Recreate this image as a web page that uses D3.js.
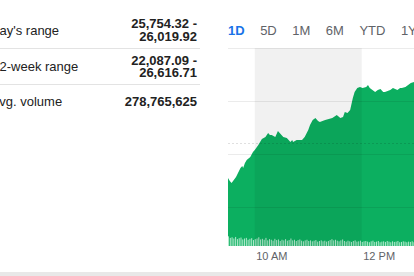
<!DOCTYPE html>
<html>
<head>
<meta charset="utf-8">
<script src="https://cdn.jsdelivr.net/npm/d3@7"></script>
<style>
  html, body { margin: 0; padding: 0; background: #fff; overflow: hidden; }
  svg { display: block; font-family: "Liberation Sans", Arial, sans-serif; }
</style>
</head>
<body>
<div class="container"></div>
<script>
// stats table on the left
const statLabels = ["Day's range", "52-week range", "Avg. volume"];
const statValues = [["25,754.32 -", "26,019.92"], ["22,087.09 -", "26,616.71"], ["278,765,625"]];

// range tabs
const tabs = ["1D", "5D", "1M", "6M", "YTD", "1Y"];

// intraday price (time, index level)
const priceTimes = ["09:30","09:32","09:34","09:39","09:44","09:46","09:47","09:49","09:51","09:55",
  "09:58","10:00","10:04","10:08","10:12","10:15","10:17","10:19","10:23","10:26",
  "10:28","10:32","10:36","10:40","10:42","10:43","10:47","10:53","10:56","11:00",
  "11:02","11:05","11:08","11:11","11:13","11:19","11:23","11:27","11:32","11:36",
  "11:39","11:41","11:44","11:47","11:50","11:52","11:55","11:58","12:01","12:05",
  "12:07","12:09","12:12","12:15","12:18","12:21","12:24","12:26","12:29","12:32",
  "12:35","12:40","12:43","12:45","12:49","12:52","12:55","12:59","13:05"];
const priceValues = [25754.7,25749.1,25745.3,25756.6,25773.6,25777.4,25773.6,25783.0,25788.7,25794.3,
  25803.8,25807.5,25817.0,25828.3,25832.1,25839.6,25835.8,25835.8,25832.1,25843.4,
  25839.6,25832.1,25830.2,25822.6,25826.4,25822.6,25826.4,25826.4,25832.1,25845.3,
  25854.7,25864.2,25867.9,25862.3,25860.4,25864.2,25866.0,25867.9,25873.6,25867.9,
  25869.8,25879.2,25877.4,25883.0,25905.7,25917.0,25924.5,25926.4,25924.5,25926.4,
  25930.2,25924.5,25920.8,25917.0,25920.8,25922.6,25917.0,25917.0,25918.9,25920.8,
  25924.5,25920.8,25924.5,25924.5,25926.4,25930.2,25934.0,25935.8,25939.6];

// volume in millions, one bar per 2 minutes from 09:30
const volumes = [3.1,2.6,2.8,2.4,2.9,2.2,2.5,2.7,2.1,2.4,
  2.6,2.0,2.3,2.5,1.9,2.2,2.4,2.8,2.1,2.3,
  2.0,2.6,1.8,2.2,2.0,1.7,2.3,1.9,2.1,1.6,
  2.0,1.8,2.2,1.7,1.9,2.4,1.8,2.0,1.6,1.9,
  2.1,1.7,1.5,1.8,2.0,1.6,1.8,1.5,1.7,1.9,
  1.4,1.6,1.8,1.5,1.7,1.4,1.6,1.9,2.2,1.8,
  2.0,1.7,1.5,1.8,2.1,1.6,1.4,1.7,1.5,1.3,
  1.6,1.8,1.4,1.5,1.7,1.3,1.5,1.6,1.4,1.2,
  1.5,1.7,1.3,1.4,1.6,1.2,1.4,1.5,1.3,1.6,
  1.4,1.2,1.5,1.3,1.4,1.6,1.2,1.3,1.5,1.4,
  1.2,1.4,1.3,1.5,1.2];

const yTicks = [25700, 25800, 25900, 26000];
const prevClose = 25821;
const xTicks = ["10:00", "12:00", "14:00"];
const shadeBands = [["10:00", "12:00"], ["14:00", "16:00"]];

let width = 414, height = 276;
const parse = d3.timeParse("%H:%M");
const green = "#0caf60";
const baseY = 246;

const svg = d3.select('.container')
  .append('svg')
  .attr('width', width)
  .attr('height', height);

// ---- left stats table ----
[48, 84].forEach(yy => {
  svg.append('line').attr('x1', 0).attr('x2', 200).attr('y1', yy + 0.5).attr('y2', yy + 0.5)
    .attr('stroke', '#e3e3e3');
});
const labelBase = [34.5, 70.5, 106];
statLabels.forEach((lab, i) => {
  const t = svg.append('text').attr('y', labelBase[i]).attr('font-size', 13).attr('fill', '#222').text(lab[0]);
  const w = t.node().getComputedTextLength();
  t.attr('x', -w - 0.5).text(lab);
});
const valBase = [[28, 41], [64.5, 77], [106]];
statValues.forEach((vals, i) => {
  vals.forEach((v, j) => {
    svg.append('text').attr('x', 197).attr('y', valBase[i][j])
      .attr('text-anchor', 'end').attr('font-size', 13).attr('font-weight', 'bold')
      .attr('fill', '#222').text(v);
  });
});

// ---- tabs ----
let tx = 228;
tabs.forEach((tb, i) => {
  const t = svg.append('text').attr('x', tx).attr('y', 35).attr('font-size', 13)
    .attr('fill', i === 0 ? '#1a73e8' : '#5f6368')
    .attr('font-weight', i === 0 ? 'bold' : 'normal')
    .text(tb);
  tx += t.node().getComputedTextLength() + 15.5;
});

// ---- chart ----
const xScale = d3.scaleTime()
  .domain([parse("09:30"), parse("16:00")])
  .range([228, 228 + 6.5 * 53.5]);
const yScale = d3.scaleLinear()
  .domain([25700, 26000])
  .range([207, 48]);
const volScale = d3.scaleLinear()
  .domain([0, 3.2])
  .range([baseY, 236]);

const priceData = priceTimes.map((t, i) => ({ t: parse(t), v: priceValues[i] }));
const start = parse("09:30");
const volData = volumes.map((v, i) => ({ t: d3.timeMinute.offset(start, i * 2), v: v }));

const chart = svg.append('g');

// price area
chart.append('path')
  .datum(priceData)
  .attr('fill', green)
  .attr('d', d3.area().x(d => xScale(d.t)).y0(baseY).y1(d => yScale(d.v)));

// volume bars
chart.selectAll('rect.vol')
  .data(volData)
  .enter()
  .append('rect')
  .attr('class', 'vol')
  .attr('x', d => xScale(d.t))
  .attr('y', d => volScale(d.v))
  .attr('width', 1)
  .attr('height', d => baseY - volScale(d.v))
  .attr('fill', '#b3eacd');

// shaded hour bands
chart.selectAll('rect.band')
  .data(shadeBands)
  .enter()
  .append('rect')
  .attr('class', 'band')
  .attr('x', d => xScale(parse(d[0])))
  .attr('width', d => xScale(parse(d[1])) - xScale(parse(d[0])))
  .attr('y', 48)
  .attr('height', baseY - 48)
  .attr('fill', '#000')
  .attr('fill-opacity', 0.055);

// gridlines
chart.selectAll('line.grid')
  .data(yTicks)
  .enter()
  .append('line')
  .attr('class', 'grid')
  .attr('x1', 228).attr('x2', width)
  .attr('y1', d => Math.round(yScale(d)) + 0.5)
  .attr('y2', d => Math.round(yScale(d)) + 0.5)
  .attr('stroke', '#000')
  .attr('stroke-opacity', 0.08);

// previous close
chart.append('line')
  .attr('x1', 228).attr('x2', width)
  .attr('y1', Math.round(yScale(prevClose)) + 0.5)
  .attr('y2', Math.round(yScale(prevClose)) + 0.5)
  .attr('stroke', '#000')
  .attr('stroke-opacity', 0.12)
  .attr('stroke-dasharray', '2,2');

// x axis
const xAxis = d3.axisBottom(xScale)
  .tickValues(xTicks.map(parse))
  .tickSize(0)
  .tickPadding(0)
  .tickFormat(d3.timeFormat("%-I %p"));
const gx = svg.append('g').attr('transform', `translate(0, ${baseY})`).call(xAxis);
gx.select('.domain').remove();
gx.selectAll('text')
  .attr('text-anchor', 'start')
  .attr('dx', 1)
  .attr('dy', 0)
  .attr('y', 14)
  .attr('font-size', 11)
  .attr('font-family', '"Liberation Sans", Arial, sans-serif')
  .attr('fill', '#5f6368');

// bottom strip
svg.append('rect').attr('x', 0).attr('y', 272).attr('width', width).attr('height', 4).attr('fill', '#e8e8e8');
</script>
</body>
</html>
